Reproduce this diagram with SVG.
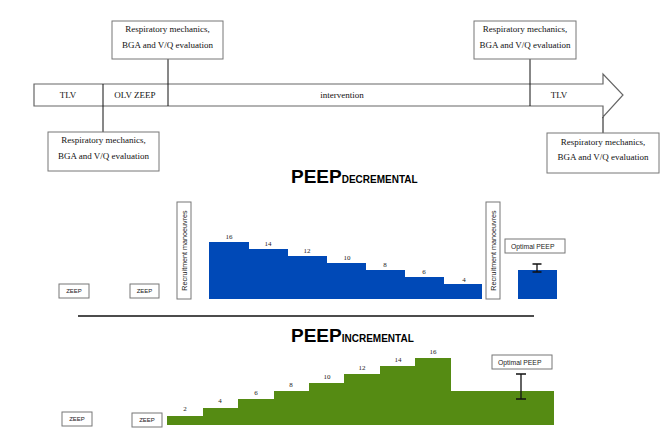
<svg xmlns="http://www.w3.org/2000/svg" width="672" height="446" viewBox="0 0 672 446">
<style>
.box{fill:#fff;stroke:#777;stroke-width:1}
.serif{font-family:"Liberation Serif","Times New Roman",serif;fill:#111}
.t9{font-size:9px}
.num{font-family:"Liberation Serif","Times New Roman",serif;font-size:7px;fill:#222;text-anchor:middle}
.sans{font-family:"Liberation Sans",Arial,sans-serif;fill:#222}
.zeep{font-size:6px;text-anchor:middle}
.conn{stroke:#111;stroke-width:1;fill:none}
.blue{fill:#0049b7}
.green{fill:#558b13}
.err{stroke:#111;stroke-width:1.3;fill:none}
.title{font-family:"Liberation Sans",Arial,sans-serif;font-weight:bold;fill:#000}
</style>
<rect width="672" height="446" fill="#fff"/>

<g id="timeline">
<path d="M34,84 H603 V74 L623,95 L603,117 V106 H34 Z" fill="#fff" stroke="#666" stroke-width="1.2"/>
<text class="serif t9" x="68" y="98" text-anchor="middle">TLV</text>
<text class="serif t9" x="135" y="98" text-anchor="middle">OLV ZEEP</text>
<text class="serif t9" x="342" y="98" text-anchor="middle">intervention</text>
<text class="serif t9" x="559" y="98" text-anchor="middle">TLV</text>
</g>

<g id="connectors">
<line class="conn" x1="103" y1="84" x2="103" y2="132"/>
<line class="conn" x1="168" y1="59" x2="168" y2="106"/>
<line class="conn" x1="530" y1="59" x2="530" y2="106"/>
<line class="conn" x1="603" y1="117" x2="603" y2="133"/>
</g>

<g id="eval-top-left">
<rect class="box" x="112" y="21" width="111" height="38"/>
<text class="serif t9" x="167.5" y="32" text-anchor="middle">Respiratory mechanics,</text>
<text class="serif t9" x="167.5" y="48" text-anchor="middle">BGA and V/Q evaluation</text>
</g>
<g id="eval-bottom-left">
<rect class="box" x="48" y="132" width="111" height="39"/>
<text class="serif t9" x="103.5" y="143" text-anchor="middle">Respiratory mechanics,</text>
<text class="serif t9" x="103.5" y="159" text-anchor="middle">BGA and V/Q evaluation</text>
</g>
<g id="eval-top-right">
<rect class="box" x="474" y="21" width="102" height="38"/>
<text class="serif t9" x="525" y="32" text-anchor="middle">Respiratory mechanics,</text>
<text class="serif t9" x="525" y="48" text-anchor="middle">BGA and V/Q evaluation</text>
</g>
<g id="eval-bottom-right">
<rect class="box" x="547" y="133" width="112" height="40"/>
<text class="serif t9" x="603" y="145" text-anchor="middle">Respiratory mechanics,</text>
<text class="serif t9" x="603" y="160" text-anchor="middle">BGA and V/Q evaluation</text>
</g>

<g id="title-decremental">
<text class="title" x="291" y="183" font-size="19">PEEP<tspan font-size="10">DECREMENTAL</tspan></text>
</g>

<g id="decremental">
<g id="dec-zeep1"><rect class="box" x="59" y="284" width="30" height="14"/><text class="sans zeep" x="74" y="293.2">ZEEP</text></g>
<g id="dec-zeep2"><rect class="box" x="130" y="284" width="29" height="14"/><text class="sans zeep" x="144.5" y="293.2">ZEEP</text></g>
<g id="dec-rm1"><rect class="box" x="177" y="202" width="14" height="97"/><text class="sans" font-size="7.2" text-anchor="middle" transform="translate(186.5,250.5) rotate(-90)">Recruitment manoeuvres</text></g>
<path class="blue" d="M209,299 V242 H249 V249 H288 V256 H327 V263 H366 V270 H405 V277 H444 V284 H482 V299 Z"/>
<text class="num" x="229" y="239">16</text>
<text class="num" x="268" y="246">14</text>
<text class="num" x="307" y="253">12</text>
<text class="num" x="347" y="260">10</text>
<text class="num" x="385" y="267">8</text>
<text class="num" x="424" y="274">6</text>
<text class="num" x="464" y="281.5">4</text>
<g id="dec-rm2"><rect class="box" x="486" y="202" width="14" height="97"/><text class="sans" font-size="7.2" text-anchor="middle" transform="translate(495.5,250.5) rotate(-90)">Recruitment manoeuvres</text></g>
<g id="dec-optimal"><rect class="box" x="505" y="239" width="60" height="14"/><text class="sans" font-size="6.8" x="511" y="248.5">Optimal PEEP</text></g>
<rect class="blue" x="518" y="270" width="39" height="29"/>
<path class="err" d="M537,264 V272 M532.5,264 H541.5 M532.5,272 H541.5"/>
</g>

<line x1="78" y1="316" x2="534" y2="316" stroke="#111" stroke-width="1.5"/>

<g id="title-incremental">
<text class="title" x="291" y="342" font-size="19">PEEP<tspan font-size="10">INCREMENTAL</tspan></text>
</g>

<g id="incremental">
<g id="inc-zeep1"><rect class="box" x="62" y="412" width="30" height="14"/><text class="sans zeep" x="77" y="421.2">ZEEP</text></g>
<g id="inc-zeep2"><rect class="box" x="132" y="413" width="30" height="14"/><text class="sans zeep" x="147" y="422.2">ZEEP</text></g>
<path class="green" d="M167,425 V416 H203 V408 H238 V399 H274 V391 H309 V383 H344 V374 H380 V366 H415 V358 H451 V391 H554 V425 Z"/>
<text class="num" x="185" y="411">2</text>
<text class="num" x="220" y="403">4</text>
<text class="num" x="256" y="395">6</text>
<text class="num" x="291" y="387">8</text>
<text class="num" x="327" y="378.5">10</text>
<text class="num" x="362" y="370">12</text>
<text class="num" x="398" y="362">14</text>
<text class="num" x="433" y="353.5">16</text>
<g id="inc-optimal"><rect class="box" x="492" y="355" width="60" height="14"/><text class="sans" font-size="6.8" x="498" y="364.5">Optimal PEEP</text></g>
<path class="err" d="M521,374 V399 M516,374 H526 M516,399 H526"/>
</g>
</svg>
